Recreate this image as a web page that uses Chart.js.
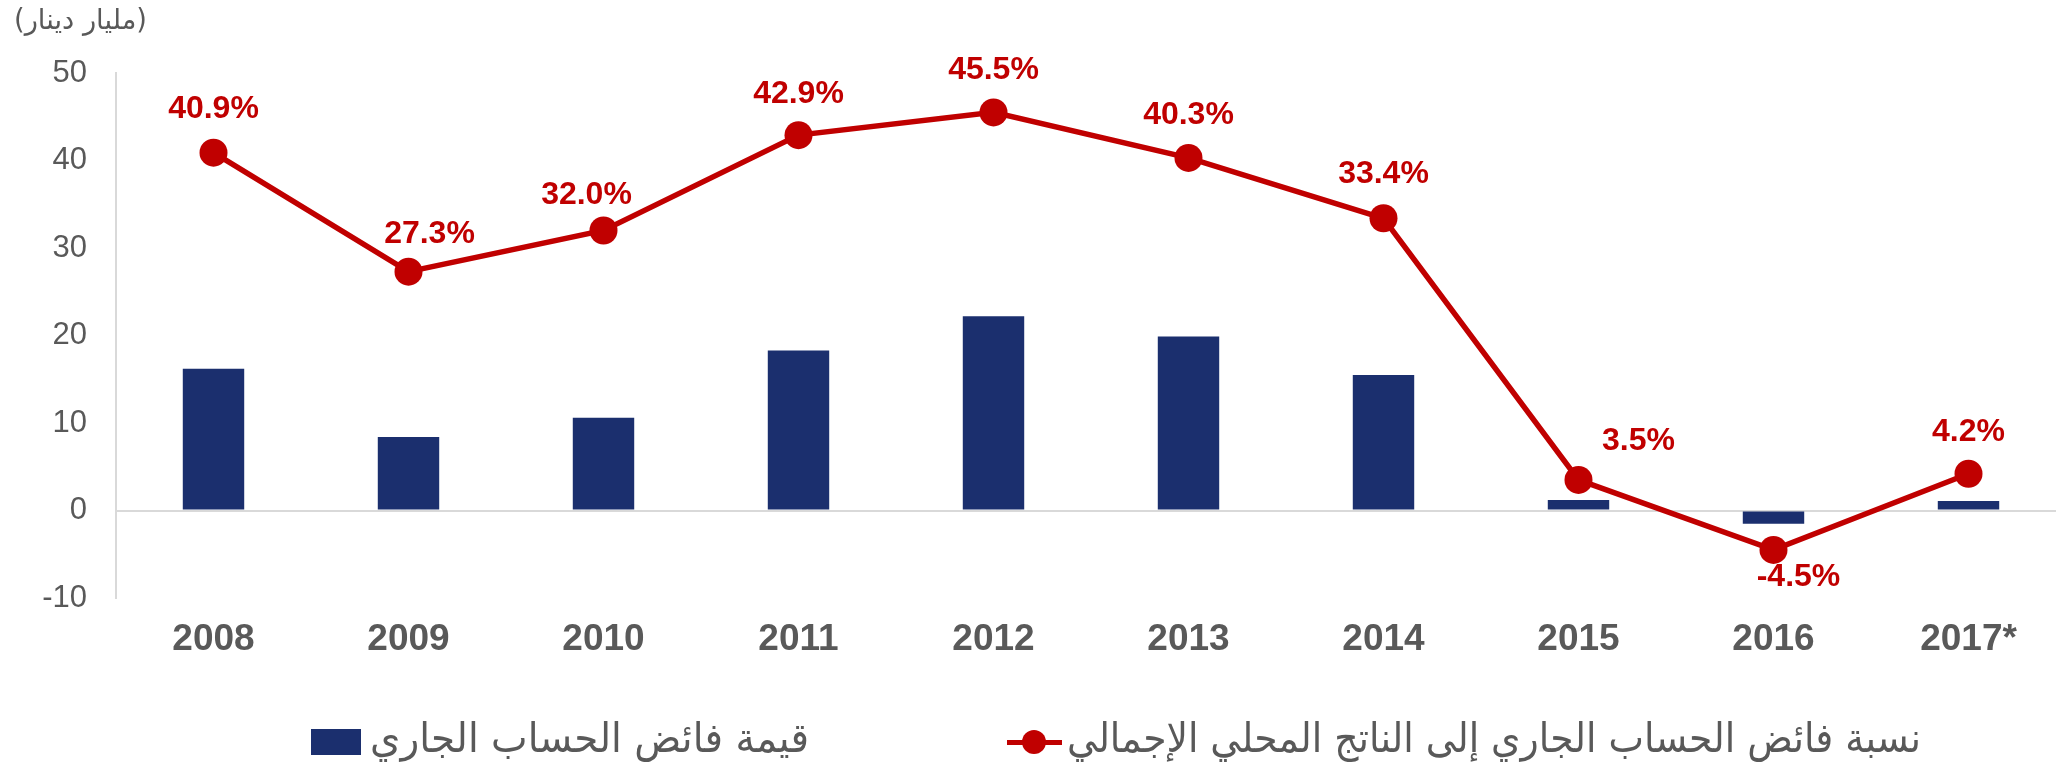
<!DOCTYPE html>
<html><head><meta charset="utf-8">
<script src="https://cdn.jsdelivr.net/npm/chart.js@4.4.0/dist/chart.umd.min.js"></script>
<style>
html,body{margin:0;padding:0;background:#fff;overflow:hidden;width:2056px;height:764px}
#wrap{position:relative;width:2080px;height:764px;overflow:hidden}
#c{position:absolute;left:0;top:0}
.txt{position:absolute;white-space:nowrap;font-family:"DejaVu Sans";color:#595959;direction:rtl;transform-origin:0 0;line-height:1;display:inline-block}
</style></head><body>
<div id="wrap">
<canvas id="c" width="2080" height="764"></canvas>
<span class="txt" id="unit" style="font-size:28px"></span>
<div id="lgBox" style="position:absolute;left:311px;top:729px;width:50px;height:26px;background:#1B2F6E"></div>
<span class="txt" id="lgBarTxt" style="font-size:41px"></span>
<div style="position:absolute;left:1007px;top:740px;width:55px;height:5px;background:#C00000"></div>
<div style="position:absolute;left:1022px;top:730px;width:24px;height:24px;border-radius:50%;background:#C00000"></div>
<span class="txt" id="lgLineTxt" style="font-size:41px"></span>
</div>
<script>
// ---- data ----
const categories = ['2008','2009','2010','2011','2012','2013','2014','2015','2016','2017*'];
const currentAccountSurplus = [16.2, 8.4, 10.6, 18.3, 22.2, 19.9, 15.5, 1.2, -1.5, 1.1];
const surplusToGdpPct = [40.9, 27.3, 32.0, 42.9, 45.5, 40.3, 33.4, 3.5, -4.5, 4.2];
const yTicks = [-10, 0, 10, 20, 30, 40, 50];
const barSeriesName = 'قيمة فائض الحساب الجاري';
const lineSeriesName = 'نسبة فائض الحساب الجاري إلى الناتج المحلي الإجمالي';
const unitLabel = '(مليار دينار)';

// ---- label placement (style) ----
const labelOffsets = [[0,-43],[21,-37],[-17,-35],[0,-41],[0,-42],[0,-43],[0,-44],[60,-39],[25,27],[0,-42]];

const pointLabels = {
  id: 'pointLabels',
  afterDatasetsDraw(chart) {
    const meta = chart.getDatasetMeta(0);
    const ctx = chart.ctx;
    ctx.save();
    ctx.font = 'bold 32px "Liberation Sans", Arial, sans-serif';
    ctx.fillStyle = '#C00000';
    ctx.textAlign = 'center';
    ctx.textBaseline = 'middle';
    meta.data.forEach((pt, i) => {
      const v = chart.data.datasets[0].data[i];
      const o = labelOffsets[i];
      ctx.fillText(v.toFixed(1) + '%', pt.x + o[0], pt.y + o[1]);
    });
    ctx.restore();
  }
};

new Chart(document.getElementById('c'), {
  type: 'bar',
  data: {
    labels: categories,
    datasets: [
      {
        type: 'line', label: lineSeriesName, data: surplusToGdpPct, order: 0,
        borderColor: '#C00000', backgroundColor: '#C00000', borderWidth: 5.5,
        pointRadius: 14, pointHoverRadius: 14, pointBorderWidth: 0,
        pointBackgroundColor: '#C00000', tension: 0, fill: false
      },
      {
        type: 'bar', label: barSeriesName, data: currentAccountSurplus, order: 1,
        backgroundColor: '#1B2F6E', borderWidth: 0,
        categoryPercentage: 1, barPercentage: 0.315
      }
    ]
  },
  options: {
    responsive: false,
    animation: false,
    devicePixelRatio: 1,
    layout: { padding: { top: 73, left: 0, right: 10, bottom: 86 } },
    plugins: { legend: { display: false }, tooltip: { enabled: false } },
    scales: {
      x: {
        offset: true,
        grid: { display: false, drawTicks: false },
        border: { display: false },
        ticks: { color: '#595959', padding: 20, font: { family: '"Liberation Sans", Arial, sans-serif', size: 37, weight: 'bold' } },
        afterFit: s => { s.height = 80; }
      },
      y: {
        min: -10, max: 50,
        afterBuildTicks: s => { s.ticks = yTicks.map(v => ({ value: v })); },
        grid: {
          drawTicks: false,
          color: c => (c.tick && c.tick.value === 0) ? '#D9D9D9' : 'rgba(0,0,0,0)',
          lineWidth: 2
        },
        border: { display: true, color: '#D9D9D9', width: 2 },
        ticks: { color: '#595959', padding: 29, font: { family: '"Liberation Sans", Arial, sans-serif', size: 31 } },
        afterFit: s => { s.width = 116; }
      }
    }
  },
  plugins: [pointLabels]
});

function fitText(id, text, left, width, top) {
  const el = document.getElementById(id);
  el.textContent = text;
  const w = el.getBoundingClientRect().width;
  el.style.left = left + 'px';
  el.style.top = top + 'px';
  el.style.transform = 'scaleX(' + (width / w) + ')';
}
fitText('unit', unitLabel, 14, 133, 6);
fitText('lgBarTxt', barSeriesName, 370, 439, 718);
fitText('lgLineTxt', lineSeriesName, 1067, 854, 718);
</script>
</body></html>
